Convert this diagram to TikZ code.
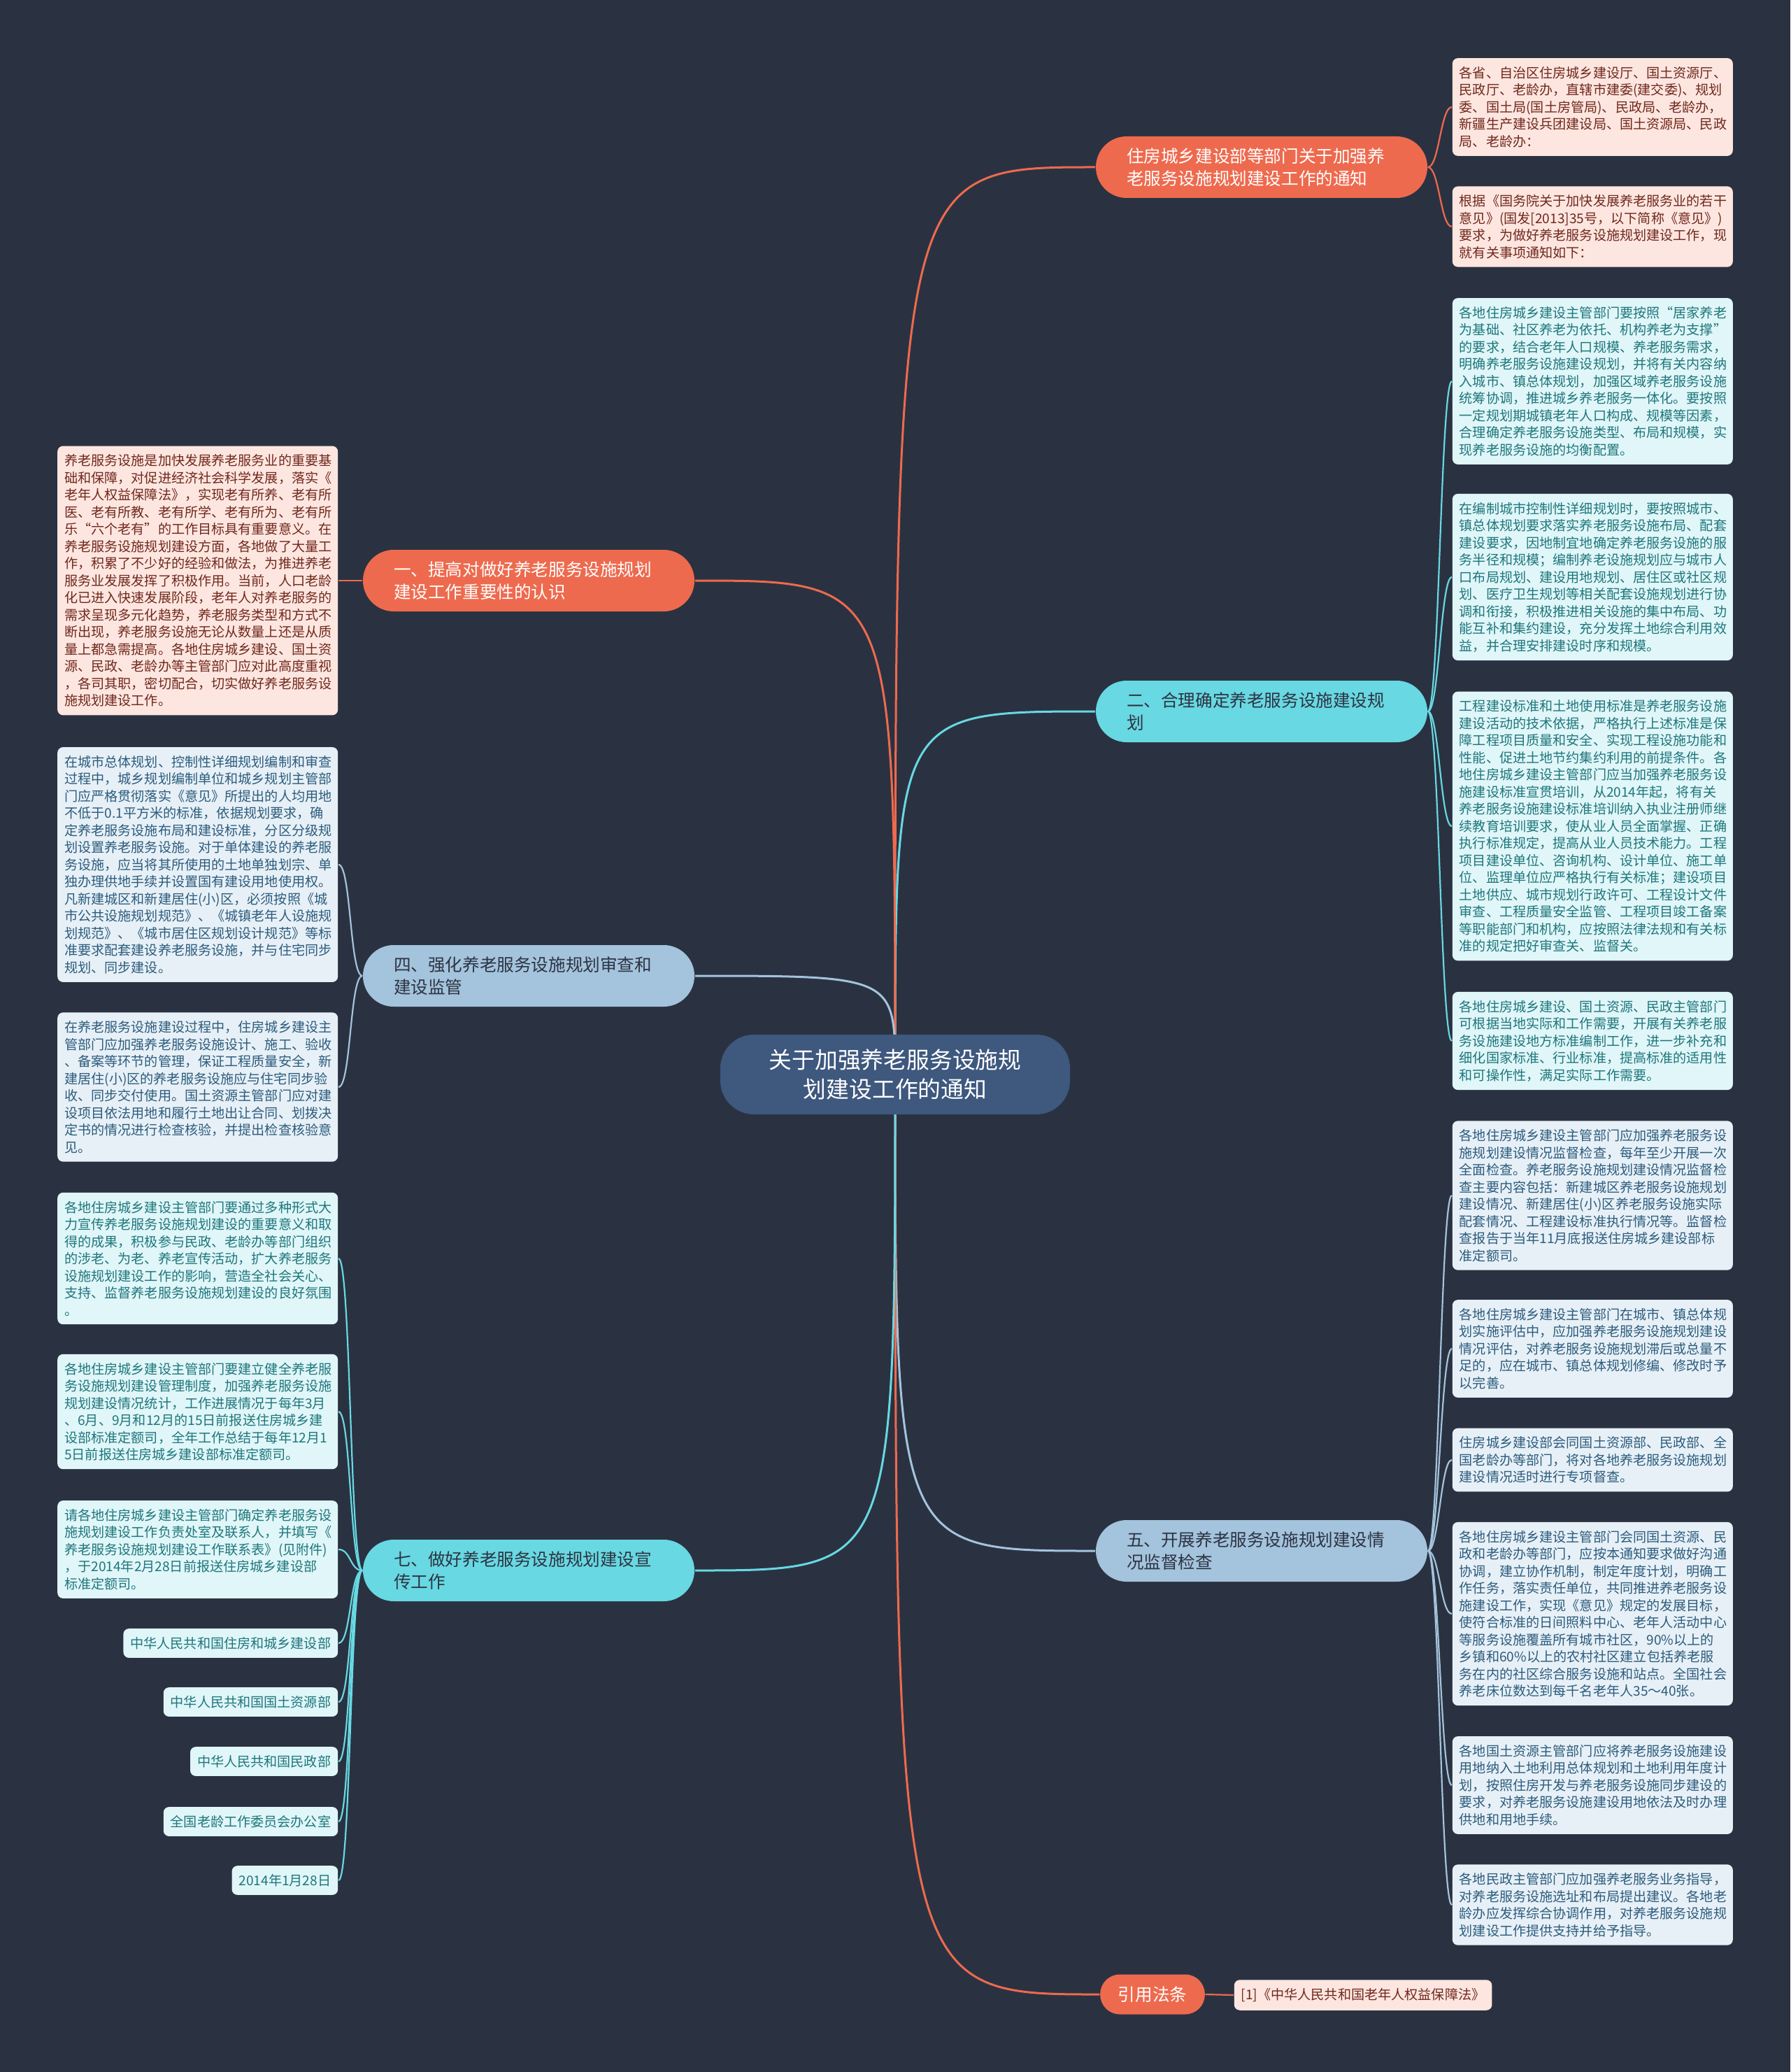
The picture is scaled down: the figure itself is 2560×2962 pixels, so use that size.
\documentclass[tikz,border=0pt]{standalone}
\usepackage{fontspec}
\setmainfont{Noto Sans CJK SC}
\usetikzlibrary{positioning,backgrounds}
\usepackage{xcolor}
\definecolor{bgc}{RGB}{42,50,65}
\definecolor{rootc}{RGB}{62,88,126}
\definecolor{hotc}{RGB}{238,106,78}
\definecolor{coolc}{RGB}{104,216,226}
\definecolor{mistc}{RGB}{164,195,220}
\definecolor{hotl}{RGB}{253,230,224}
\definecolor{cooll}{RGB}{224,246,248}
\definecolor{mistl}{RGB}{231,240,247}
\definecolor{hott}{RGB}{112,40,28}
\definecolor{coolt}{RGB}{30,118,124}
\definecolor{mistt}{RGB}{44,92,124}
\definecolor{darkt}{RGB}{44,52,66}
\tikzset{
  root/.style={fill=rootc, text=white, rounded corners=12pt, minimum width=125pt, minimum height=28.5pt, align=center, font=\fontsize{8.2pt}{10.4pt}\selectfont},
  branch/.style={rounded corners=11pt, minimum height=22pt, inner xsep=11pt, inner ysep=3pt, font=\fontsize{6.15pt}{8pt}\selectfont},
  wide/.style={text width=96.5pt, align=left},
  hot/.style={branch, fill=hotc, text=white},
  cool/.style={branch, fill=coolc, text=darkt},
  mist/.style={branch, fill=mistc, text=darkt},
  leaf/.style={rounded corners=2pt, inner xsep=2.5pt, inner ysep=3pt, align=left, font=\fontsize{4.78pt}{6.125pt}\selectfont},
  note/.style={leaf, text width=95.25pt},
  hotleaf/.style={fill=hotl, text=hott},
  coolleaf/.style={fill=cooll, text=coolt},
  mistleaf/.style={fill=mistl, text=mistt},
  limb/.style={line width=0.75pt},
  twig/.style={line width=0.55pt}
}
\begin{document}
\begin{tikzpicture}[x=0.25pt, y=-0.25pt]
  % ---- centre and main branches ----
  \node[root] (root) at (1280,1536) {关于加强养老服务设施规\\划建设工作的通知};
  \node[hot, wide] (notice) at (1804,239) {住房城乡建设部等部门关于加强养\\老服务设施规划建设工作的通知};
  \node[cool, wide] (plan) at (1804,1017) {二、合理确定养老服务设施建设规\\划};
  \node[mist, wide] (check) at (1804,2217) {五、开展养老服务设施规划建设情\\况监督检查};
  \node[hot, inner xsep=6.4pt, minimum height=14.25pt, rounded corners=7pt] (law) at (1648,2851) {引用法条};
  \node[hot, wide] (aware) at (756,830) {一、提高对做好养老服务设施规划\\建设工作重要性的认识};
  \node[mist, wide] (audit) at (756,1395) {四、强化养老服务设施规划审查和\\建设监管};
  \node[cool, wide] (promo) at (756,2245) {七、做好养老服务设施规划建设宣\\传工作};

  % ---- right leaves ----
  \node[note, hotleaf, anchor=west] (addressee) at (2076,153) {各省、自治区住房城乡建设厅、国土资源厅、\\民政厅、老龄办，直辖市建委(建交委)、规划\\委、国土局(国土房管局)、民政局、老龄办，\\新疆生产建设兵团建设局、国土资源局、民政\\局、老龄办：};
  \node[note, hotleaf, anchor=west] (basis) at (2076,324) {根据《国务院关于加快发展养老服务业的若干\\意见》(国发[2013]35号，以下简称《意见》)\\要求，为做好养老服务设施规划建设工作，现\\就有关事项通知如下：};
  \node[note, coolleaf, anchor=west] (layout) at (2076,545) {各地住房城乡建设主管部门要按照“居家养老\\为基础、社区养老为依托、机构养老为支撑”\\的要求，结合老年人口规模、养老服务需求，\\明确养老服务设施建设规划，并将有关内容纳\\入城市、镇总体规划，加强区域养老服务设施\\统筹协调，推进城乡养老服务一体化。要按照\\一定规划期城镇老年人口构成、规模等因素，\\合理确定养老服务设施类型、布局和规模，实\\现养老服务设施的均衡配置。};
  \node[note, coolleaf, anchor=west] (detail) at (2076,825) {在编制城市控制性详细规划时，要按照城市、\\镇总体规划要求落实养老服务设施布局、配套\\建设要求，因地制宜地确定养老服务设施的服\\务半径和规模；编制养老设施规划应与城市人\\口布局规划、建设用地规划、居住区或社区规\\划、医疗卫生规划等相关配套设施规划进行协\\调和衔接，积极推进相关设施的集中布局、功\\能互补和集约建设，充分发挥土地综合利用效\\益，并合理安排建设时序和规模。};
  \node[note, coolleaf, anchor=west] (standard) at (2076,1181) {工程建设标准和土地使用标准是养老服务设施\\建设活动的技术依据，严格执行上述标准是保\\障工程项目质量和安全、实现工程设施功能和\\性能、促进土地节约集约利用的前提条件。各\\地住房城乡建设主管部门应当加强养老服务设\\施建设标准宣贯培训，从2014年起，将有关\\养老服务设施建设标准培训纳入执业注册师继\\续教育培训要求，使从业人员全面掌握、正确\\执行标准规定，提高从业人员技术能力。工程\\项目建设单位、咨询机构、设计单位、施工单\\位、监理单位应严格执行有关标准；建设项目\\土地供应、城市规划行政许可、工程设计文件\\审查、工程质量安全监管、工程项目竣工备案\\等职能部门和机构，应按照法律法规和有关标\\准的规定把好审查关、监督关。};
  \node[note, coolleaf, anchor=west] (localstd) at (2076,1488) {各地住房城乡建设、国土资源、民政主管部门\\可根据当地实际和工作需要，开展有关养老服\\务设施建设地方标准编制工作，进一步补充和\\细化国家标准、行业标准，提高标准的适用性\\和可操作性，满足实际工作需要。};
  \node[note, mistleaf, anchor=west] (inspect) at (2076,1709) {各地住房城乡建设主管部门应加强养老服务设\\施规划建设情况监督检查，每年至少开展一次\\全面检查。养老服务设施规划建设情况监督检\\查主要内容包括：新建城区养老服务设施规划\\建设情况、新建居住(小)区养老服务设施实际\\配套情况、工程建设标准执行情况等。监督检\\查报告于当年11月底报送住房城乡建设部标\\准定额司。};
  \node[note, mistleaf, anchor=west] (assess) at (2076,1928) {各地住房城乡建设主管部门在城市、镇总体规\\划实施评估中，应加强养老服务设施规划建设\\情况评估，对养老服务设施规划滞后或总量不\\足的，应在城市、镇总体规划修编、修改时予\\以完善。};
  \node[note, mistleaf, anchor=west] (special) at (2076,2087) {住房城乡建设部会同国土资源部、民政部、全\\国老龄办等部门，将对各地养老服务设施规划\\建设情况适时进行专项督查。};
  \node[note, mistleaf, anchor=west] (coord) at (2076,2307) {各地住房城乡建设主管部门会同国土资源、民\\政和老龄办等部门，应按本通知要求做好沟通\\协调，建立协作机制，制定年度计划，明确工\\作任务，落实责任单位，共同推进养老服务设\\施建设工作，实现《意见》规定的发展目标，\\使符合标准的日间照料中心、老年人活动中心\\等服务设施覆盖所有城市社区，90\%以上的\\乡镇和60\%以上的农村社区建立包括养老服\\务在内的社区综合服务设施和站点。全国社会\\养老床位数达到每千名老年人35～40张。};
  \node[note, mistleaf, anchor=west] (landuse) at (2076,2552) {各地国土资源主管部门应将养老服务设施建设\\用地纳入土地利用总体规划和土地利用年度计\\划，按照住房开发与养老服务设施同步建设的\\要求，对养老服务设施建设用地依法及时办理\\供地和用地手续。};
  \node[note, mistleaf, anchor=west] (civil) at (2076,2723) {各地民政主管部门应加强养老服务业务指导，\\对养老服务设施选址和布局提出建议。各地老\\龄办应发挥综合协调作用，对养老服务设施规\\划建设工作提供支持并给予指导。};
  \node[leaf, hotleaf, anchor=west] (lawref) at (1764,2852) {[1]《中华人民共和国老年人权益保障法》};

  % ---- left leaves ----
  \node[note, hotleaf, anchor=east] (meaning) at (484,830) {养老服务设施是加快发展养老服务业的重要基\\础和保障，对促进经济社会科学发展，落实《\\老年人权益保障法》，实现老有所养、老有所\\医、老有所教、老有所学、老有所为、老有所\\乐“六个老有”的工作目标具有重要意义。在\\养老服务设施规划建设方面，各地做了大量工\\作，积累了不少好的经验和做法，为推进养老\\服务业发展发挥了积极作用。当前，人口老龄\\化已进入快速发展阶段，老年人对养老服务的\\需求呈现多元化趋势，养老服务类型和方式不\\断出现，养老服务设施无论从数量上还是从质\\量上都急需提高。各地住房城乡建设、国土资\\源、民政、老龄办等主管部门应对此高度重视\\，各司其职，密切配合，切实做好养老服务设\\施规划建设工作。};
  \node[note, mistleaf, anchor=east] (review) at (484,1236) {在城市总体规划、控制性详细规划编制和审查\\过程中，城乡规划编制单位和城乡规划主管部\\门应严格贯彻落实《意见》所提出的人均用地\\不低于0.1平方米的标准，依据规划要求，确\\定养老服务设施布局和建设标准，分区分级规\\划设置养老服务设施。对于单体建设的养老服\\务设施，应当将其所使用的土地单独划宗、单\\独办理供地手续并设置国有建设用地使用权。\\凡新建城区和新建居住(小)区，必须按照《城\\市公共设施规划规范》、《城镇老年人设施规\\划规范》、《城市居住区规划设计规范》等标\\准要求配套建设养老服务设施，并与住宅同步\\规划、同步建设。};
  \node[note, mistleaf, anchor=east] (build) at (484,1554) {在养老服务设施建设过程中，住房城乡建设主\\管部门应加强养老服务设施设计、施工、验收\\、备案等环节的管理，保证工程质量安全，新\\建居住(小)区的养老服务设施应与住宅同步验\\收、同步交付使用。国土资源主管部门应对建\\设项目依法用地和履行土地出让合同、划拨决\\定书的情况进行检查核验，并提出检查核验意\\见。};
  \node[note, coolleaf, anchor=east] (publicity) at (484,1799) {各地住房城乡建设主管部门要通过多种形式大\\力宣传养老服务设施规划建设的重要意义和取\\得的成果，积极参与民政、老龄办等部门组织\\的涉老、为老、养老宣传活动，扩大养老服务\\设施规划建设工作的影响，营造全社会关心、\\支持、监督养老服务设施规划建设的良好氛围\\。};
  \node[note, coolleaf, anchor=east] (stats) at (484,2018) {各地住房城乡建设主管部门要建立健全养老服\\务设施规划建设管理制度，加强养老服务设施\\规划建设情况统计，工作进展情况于每年3月\\、6月、9月和12月的15日前报送住房城乡建\\设部标准定额司，全年工作总结于每年12月1\\5日前报送住房城乡建设部标准定额司。};
  \node[note, coolleaf, anchor=east] (contact) at (484,2215) {请各地住房城乡建设主管部门确定养老服务设\\施规划建设工作负责处室及联系人，并填写《\\养老服务设施规划建设工作联系表》(见附件)\\，于2014年2月28日前报送住房城乡建设部\\标准定额司。};
  \node[leaf, coolleaf, anchor=east] (mohurd) at (484,2349) {中华人民共和国住房和城乡建设部};
  \node[leaf, coolleaf, anchor=east] (mlr) at (484,2433) {中华人民共和国国土资源部};
  \node[leaf, coolleaf, anchor=east] (mca) at (484,2518) {中华人民共和国民政部};
  \node[leaf, coolleaf, anchor=east] (cnca) at (484,2604) {全国老龄工作委员会办公室};
  \node[leaf, coolleaf, anchor=east] (signdate) at (484,2688) {2014年1月28日};

  \begin{scope}[on background layer]
    \fill[bgc] (0,0) rectangle (2560,2962);
    % centre to branches
    \draw[limb, hotc] (root.center) .. controls (root.center |- notice.west) .. (notice.west);
    \draw[limb, coolc] (root.center) .. controls (root.center |- plan.west) .. (plan.west);
    \draw[limb, mistc] (root.center) .. controls (root.center |- check.west) .. (check.west);
    \draw[limb, hotc] (root.center) .. controls (root.center |- law.west) .. (law.west);
    \draw[limb, hotc] (root.center) .. controls (root.center |- aware.east) .. (aware.east);
    \draw[limb, mistc] (root.center) .. controls (root.center |- audit.east) .. (audit.east);
    \draw[limb, coolc] (root.center) .. controls (root.center |- promo.east) .. (promo.east);
    % branches to leaves, right
    \draw[twig, hotc] (notice.east) .. controls +(16,0) and +(-16,0) .. (addressee.west);
    \draw[twig, hotc] (notice.east) .. controls +(16,0) and +(-16,0) .. (basis.west);
    \draw[twig, coolc] (plan.east) .. controls +(16,0) and +(-16,0) .. (layout.west);
    \draw[twig, coolc] (plan.east) .. controls +(16,0) and +(-16,0) .. (detail.west);
    \draw[twig, coolc] (plan.east) .. controls +(16,0) and +(-16,0) .. (standard.west);
    \draw[twig, coolc] (plan.east) .. controls +(16,0) and +(-16,0) .. (localstd.west);
    \draw[twig, mistc] (check.east) .. controls +(16,0) and +(-16,0) .. (inspect.west);
    \draw[twig, mistc] (check.east) .. controls +(16,0) and +(-16,0) .. (assess.west);
    \draw[twig, mistc] (check.east) .. controls +(16,0) and +(-16,0) .. (special.west);
    \draw[twig, mistc] (check.east) .. controls +(16,0) and +(-16,0) .. (coord.west);
    \draw[twig, mistc] (check.east) .. controls +(16,0) and +(-16,0) .. (landuse.west);
    \draw[twig, mistc] (check.east) .. controls +(16,0) and +(-16,0) .. (civil.west);
    \draw[twig, hotc] (law.east) -- (lawref.west);
    % branches to leaves, left
    \draw[twig, hotc] (aware.west) .. controls +(-18,0) and +(18,0) .. (meaning.east);
    \draw[twig, mistc] (audit.west) .. controls +(-18,0) and +(18,0) .. (review.east);
    \draw[twig, mistc] (audit.west) .. controls +(-18,0) and +(18,0) .. (build.east);
    \draw[twig, coolc] (promo.west) .. controls +(-18,0) and +(18,0) .. (publicity.east);
    \draw[twig, coolc] (promo.west) .. controls +(-18,0) and +(18,0) .. (stats.east);
    \draw[twig, coolc] (promo.west) .. controls +(-18,0) and +(18,0) .. (contact.east);
    \draw[twig, coolc] (promo.west) .. controls +(-18,0) and +(18,0) .. (mohurd.east);
    \draw[twig, coolc] (promo.west) .. controls +(-18,0) and +(18,0) .. (mlr.east);
    \draw[twig, coolc] (promo.west) .. controls +(-18,0) and +(18,0) .. (mca.east);
    \draw[twig, coolc] (promo.west) .. controls +(-18,0) and +(18,0) .. (cnca.east);
    \draw[twig, coolc] (promo.west) .. controls +(-18,0) and +(18,0) .. (signdate.east);
  \end{scope}
\end{tikzpicture}
\end{document}
